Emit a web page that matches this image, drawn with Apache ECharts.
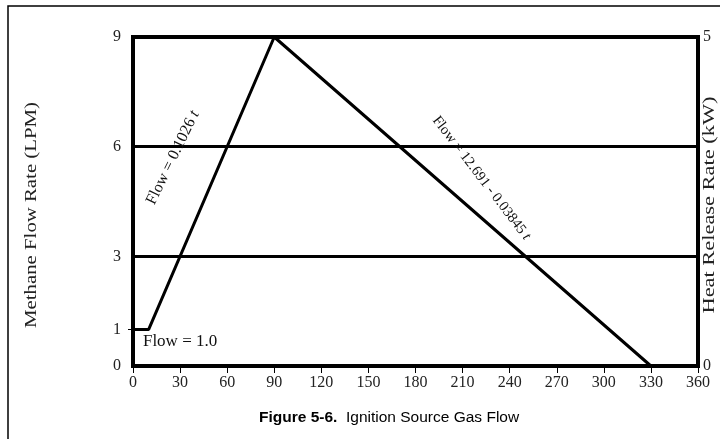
<!DOCTYPE html>
<html><head><meta charset="utf-8">
<script src="https://cdn.jsdelivr.net/npm/echarts@6/dist/echarts.min.js"></script>
<style>html,body{margin:0;padding:0;background:#fff}#c{width:720px;height:439px}</style>
</head><body><div id="c"></div>
<script>
var timeValues = [0, 10, 90, 330];
var flowValues = [1, 1, 9, 0];
var leftTickLabels = [0, 1, 3, 6, 9];
var rightTickLabels = [0, 5];
var xTickLabels = [0, 30, 60, 90, 120, 150, 180, 210, 240, 270, 300, 330, 360];
var gridLevels = [3, 6];
var annotationTexts = ['Flow = 0.1026 {i|t}', 'Flow = 12.691 - 0.03845 {i|t}', 'Flow = 1.0'];
var annotationTimes = [25.5, 222, 30];
var annotationFlows = [5.7, 5.14, 0.66];
var leftAxisName = 'Methane Flow Rate (LPM)';
var rightAxisName = 'Heat Release Rate (kW)';

var serif = '"Liberation Serif", "DejaVu Serif", serif';
var sans = '"Liberation Sans", Arial, sans-serif';
var annStyles = [
  {rotate: 64, fontSize: 16},
  {rotate: -52.5, fontSize: 14.5},
  {rotate: 0, fontSize: 17}
];
var chart = echarts.init(document.getElementById('c'));
var data = timeValues.map(function (t, i) { return [t, flowValues[i]]; });

chart.setOption({
  animation: false,
  backgroundColor: '#fff',
  title: {
    text: '{b|Figure 5-6.}  Ignition Source Gas Flow',
    left: 254, top: 405,
    textStyle: {fontFamily: sans, fontSize: 15.5, fontWeight: 'normal', color: '#000',
      rich: {b: {fontFamily: sans, fontSize: 15.5, fontWeight: 'bold', color: '#000'}}}
  },
  graphic: [{
    type: 'rect', shape: {x: 8, y: 6, width: 730, height: 450},
    style: {fill: 'none', stroke: '#000', lineWidth: 1.5}, silent: true, z: -1
  }, {
    type: 'text', x: 32, y: 215, rotation: Math.PI / 2, scaleX: 1.3,
    style: {text: leftAxisName, fontFamily: serif, fontSize: 16, fill: '#222', align: 'center', verticalAlign: 'middle'}
  }, {
    type: 'text', x: 710, y: 205, rotation: Math.PI / 2, scaleX: 1.4,
    style: {text: rightAxisName, fontFamily: serif, fontSize: 16, fill: '#222', align: 'center', verticalAlign: 'middle'}
  }],
  grid: {left: 133, right: 22, top: 37, bottom: 73, outerBoundsMode: 'none', containLabel: false,
    show: true, borderColor: '#000', borderWidth: 4, backgroundColor: 'transparent'},
  xAxis: {
    type: 'value', min: 0, max: 360, interval: 30,
    axisLine: {show: true, lineStyle: {color: '#000', width: 4}},
    axisTick: {show: true, length: 7, lineStyle: {color: '#000', width: 1}},
    axisLabel: {color: '#222', fontFamily: serif, fontSize: 16, margin: 9, customValues: xTickLabels},
    splitLine: {show: false}
  },
  yAxis: [{
    type: 'value', min: 0, max: 9, position: 'left',
    axisLine: {show: true, lineStyle: {color: '#000', width: 4}},
    axisTick: {show: true, length: 5, customValues: [1], lineStyle: {color: '#000', width: 1}},
    axisLabel: {color: '#222', fontFamily: serif, fontSize: 16, margin: 12, padding: [0, 0, 6, 0], customValues: leftTickLabels},
    splitLine: {show: false}
  }, {
    type: 'value', min: 0, max: 5, position: 'right',
    axisLine: {show: true, lineStyle: {color: '#000', width: 4}},
    axisTick: {show: false},
    axisLabel: {color: '#222', fontFamily: serif, fontSize: 16, margin: 5, padding: [0, 0, 6, 0], customValues: rightTickLabels},
    splitLine: {show: false}
  }],
  series: [{
    type: 'line', data: data, yAxisIndex: 0, symbol: 'none',
    lineStyle: {color: '#000', width: 3},
    markLine: {
      silent: true, symbol: 'none', label: {show: false},
      lineStyle: {color: '#000', width: 3, type: 'solid'},
      data: gridLevels.map(function (v) { return {yAxis: v}; })
    },
    markPoint: {
      symbol: 'circle', symbolSize: 0,
      data: annotationTexts.map(function (txt, k) {
        var s = annStyles[k];
        return {coord: [annotationTimes[k], annotationFlows[k]], value: 0,
          label: {show: true, position: 'inside', rotate: s.rotate, formatter: txt,
            fontFamily: serif, fontSize: s.fontSize, color: '#111',
            rich: {i: {fontFamily: serif, fontSize: s.fontSize, fontStyle: 'italic', color: '#111'}}}};
      })
    }
  }]
});
</script></body></html>
